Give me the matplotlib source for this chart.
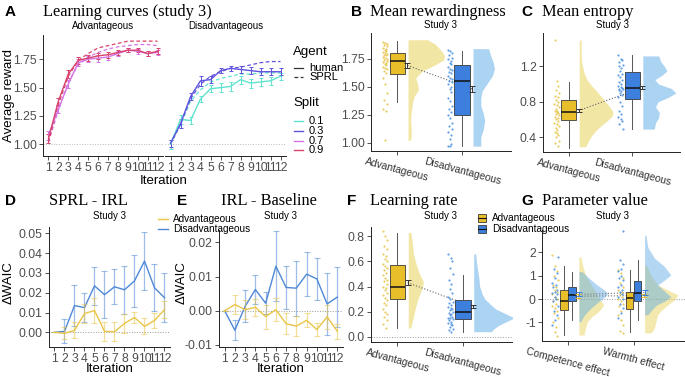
import numpy as np
import matplotlib
matplotlib.use("Agg")
import matplotlib.pyplot as plt
from matplotlib.lines import Line2D
from matplotlib.patches import Rectangle

plt.rcParams["font.family"] = ["Liberation Sans", "DejaVu Sans"]
plt.rcParams["axes.unicode_minus"] = False

W, H = 685, 377

# ---------------- data ----------------
iters = list(range(1, 13))

# A: learning curves (average reward per iteration)
adv_human_09 = [1.05, 1.38, 1.62, 1.74, 1.76, 1.78, 1.79, 1.81, 1.83, 1.83, 1.80, 1.82]
adv_human_07 = [1.08, 1.31, 1.53, 1.72, 1.75, 1.76, 1.77, 1.80, 1.83, 1.82, 1.80, 1.81]
adv_err_09 = [0.04, 0.03, 0.035, 0.03, 0.025, 0.025, 0.025, 0.02, 0.02, 0.02, 0.025, 0.025]
adv_err_07 = [0.04, 0.03, 0.035, 0.03, 0.025, 0.03, 0.03, 0.02, 0.02, 0.02, 0.025, 0.025]
adv_sprl_09 = [1.02, 1.35, 1.60, 1.74, 1.80, 1.85, 1.87, 1.89, 1.91, 1.91, 1.91, 1.91]
adv_sprl_07 = [1.02, 1.30, 1.55, 1.70, 1.77, 1.81, 1.84, 1.86, 1.87, 1.88, 1.88, 1.87]
dis_human_03 = [1.01, 1.18, 1.42, 1.56, 1.57, 1.65, 1.67, 1.66, 1.65, 1.64, 1.64, 1.64]
dis_human_01 = [1.00, 1.22, 1.21, 1.40, 1.49, 1.50, 1.51, 1.57, 1.54, 1.55, 1.56, 1.60]
dis_err_03 = [0.03, 0.04, 0.03, 0.045, 0.03, 0.025, 0.025, 0.03, 0.03, 0.03, 0.03, 0.03]
dis_err_01 = [0.04, 0.04, 0.035, 0.03, 0.03, 0.04, 0.04, 0.035, 0.04, 0.035, 0.035, 0.03]
dis_sprl_03 = [1.00, 1.18, 1.40, 1.53, 1.60, 1.64, 1.67, 1.68, 1.70, 1.72, 1.73, 1.73]
dis_sprl_01 = [1.00, 1.17, 1.38, 1.48, 1.55, 1.58, 1.60, 1.62, 1.62, 1.63, 1.63, 1.63]
split_labels = ["0.1", "0.3", "0.7", "0.9"]
split_colors = ["#5FE3CF", "#5E52DE", "#D474E6", "#D8436D"]

# D: SPRL - IRL delta WAIC
d_dis = [0.0, 0.0005, 0.0135, 0.0125, 0.0235, 0.019, 0.023, 0.0215, 0.026, 0.036, 0.0225, 0.0175]
d_dis_err = [0.0, 0.006, 0.0105, 0.0072, 0.0097, 0.0118, 0.0088, 0.0122, 0.013, 0.0145, 0.0118, 0.0125]
d_adv = [0.0, -0.0005, 0.001, 0.0095, 0.011, 0.0005, 0.0003, 0.0045, 0.0075, 0.003, 0.006, 0.0115]
d_adv_err = [0.0, 0.003, 0.004, 0.005, 0.0065, 0.0048, 0.0047, 0.0048, 0.003, 0.004, 0.004, 0.0045]

# E: IRL - Baseline delta WAIC
e_dis = [0.0, -0.0057, 0.0013, 0.0062, 0.0022, 0.013, 0.0068, 0.0066, 0.0107, 0.0093, 0.002, 0.004]
e_dis_err = [0.0, 0.003, 0.0047, 0.0043, 0.0033, 0.0102, 0.0062, 0.008, 0.0064, 0.0062, 0.009, 0.0087]
e_adv = [0.0, 0.0018, 0.0003, 0.001, -0.0017, 0.0003, -0.0038, -0.0045, -0.0028, -0.0055, -0.0018, -0.006]
e_adv_err = [0.0, 0.0027, 0.0028, 0.0025, 0.0035, 0.0033, 0.003, 0.003, 0.002, 0.0018, 0.0035, 0.0022]

groups = ["Advantageous", "Disadvantageous"]

# B: mean rewardingness
b_adv_pts = [1.90, 1.89, 1.88, 1.87, 1.86, 1.85, 1.84, 1.83, 1.82, 1.81, 1.80, 1.79, 1.78, 1.78,
             1.77, 1.76, 1.75, 1.74, 1.73, 1.72, 1.71, 1.70, 1.69, 1.68, 1.67, 1.66, 1.64, 1.62,
             1.58, 1.52, 1.44, 1.38, 1.35, 1.30, 1.28, 1.02]
b_dis_pts = [1.83, 1.82, 1.80, 1.78, 1.76, 1.75, 1.73, 1.71, 1.70, 1.68, 1.66, 1.65, 1.63, 1.62,
             1.60, 1.58, 1.57, 1.55, 1.54, 1.52, 1.50, 1.48, 1.45, 1.40, 1.37, 1.33, 1.30, 1.27,
             1.25, 1.22, 1.18, 1.15, 1.12, 1.10, 1.07, 1.03, 0.99, 0.97, 0.97]
b_box = [(1.61, 1.73, 1.80, 1.36, 1.91), (1.25, 1.55, 1.69, 0.97, 1.82)]  # q1, med, q3, lo, hi
b_mean = [1.69, 1.48]
b_se = [0.02, 0.03]
b_adv_dy = [1.92, 1.88, 1.83, 1.78, 1.74, 1.69, 1.64, 1.58, 1.52, 1.47, 1.42, 1.36, 1.28, 1.20, 1.12, 1.05, 1.02]
b_adv_dw = [0.30, 0.42, 0.50, 0.56, 0.55, 0.40, 0.22, 0.12, 0.15, 0.16, 0.10, 0.07, 0.05, 0.04, 0.05, 0.05, 0.03]
b_dis_dy = [1.84, 1.78, 1.72, 1.66, 1.60, 1.53, 1.46, 1.40, 1.33, 1.26, 1.20, 1.12, 1.05, 0.97]
b_dis_dw = [0.24, 0.27, 0.31, 0.33, 0.30, 0.22, 0.14, 0.12, 0.12, 0.16, 0.18, 0.16, 0.12, 0.12]

# C: mean entropy
c_adv_pts = [1.50, 1.03, 0.98, 0.93, 0.90, 0.87, 0.85, 0.82, 0.80, 0.78, 0.76, 0.74, 0.72, 0.70,
             0.69, 0.68, 0.67, 0.66, 0.65, 0.63, 0.62, 0.60, 0.58, 0.56, 0.55, 0.52, 0.50, 0.48,
             0.46, 0.44, 0.42, 0.40, 0.35, 0.33, 0.30]
c_dis_pts = [1.33, 1.28, 1.27, 1.25, 1.22, 1.20, 1.18, 1.15, 1.12, 1.10, 1.08, 1.05, 1.02, 1.00,
             0.98, 0.97, 0.96, 0.95, 0.94, 0.93, 0.92, 0.90, 0.88, 0.85, 0.80, 0.75, 0.70, 0.66,
             0.63, 0.60, 0.58, 0.55, 0.49]
c_box = [(0.59, 0.68, 0.82, 0.28, 1.02), (0.83, 0.96, 1.14, 0.49, 1.33)]
c_mean = [0.70, 0.96]
c_se = [0.015, 0.02]
c_adv_dy = [1.50, 1.35, 1.24, 1.12, 1.04, 0.97, 0.90, 0.82, 0.75, 0.69, 0.64, 0.59, 0.53, 0.48, 0.42, 0.36, 0.29]
c_adv_dw = [0.03, 0.03, 0.04, 0.08, 0.13, 0.21, 0.30, 0.39, 0.47, 0.53, 0.52, 0.45, 0.35, 0.27, 0.20, 0.15, 0.10]
c_dis_dy = [1.32, 1.26, 1.20, 1.15, 1.10, 1.05, 1.00, 0.95, 0.90, 0.85, 0.80, 0.74, 0.68, 0.62, 0.56, 0.49]
c_dis_dw = [0.25, 0.28, 0.34, 0.38, 0.30, 0.19, 0.25, 0.45, 0.52, 0.40, 0.24, 0.20, 0.26, 0.25, 0.20, 0.18]

# F: learning rate
f_adv_pts = [0.84, 0.80, 0.77, 0.72, 0.70, 0.66, 0.64, 0.62, 0.60, 0.58, 0.56, 0.55, 0.53, 0.51,
             0.49, 0.47, 0.45, 0.44, 0.42, 0.40, 0.39, 0.37, 0.35, 0.33, 0.31, 0.29, 0.27, 0.25,
             0.22, 0.20, 0.18, 0.16, 0.13, 0.10, 0.07]
f_dis_pts = [0.66, 0.63, 0.60, 0.55, 0.50, 0.45, 0.42, 0.38, 0.35, 0.32, 0.30, 0.28, 0.27, 0.25,
             0.24, 0.23, 0.22, 0.21, 0.20, 0.19, 0.18, 0.17, 0.16, 0.15, 0.15, 0.14, 0.13, 0.12,
             0.11, 0.10, 0.09, 0.08, 0.06, 0.05, 0.04]
f_box = [(0.30, 0.40, 0.57, 0.07, 0.83), (0.14, 0.20, 0.29, 0.04, 0.49)]
f_mean = [0.43, 0.24]
f_se = [0.02, 0.015]
f_adv_dy = [0.83, 0.75, 0.66, 0.58, 0.53, 0.48, 0.44, 0.40, 0.37, 0.32, 0.27, 0.21, 0.16, 0.10, 0.07]
f_adv_dw = [0.04, 0.06, 0.08, 0.12, 0.15, 0.19, 0.23, 0.22, 0.20, 0.16, 0.13, 0.10, 0.08, 0.05, 0.04]
f_dis_dy = [0.66, 0.60, 0.53, 0.46, 0.40, 0.34, 0.30, 0.26, 0.22, 0.18, 0.15, 0.12, 0.09, 0.06, 0.04]
f_dis_dw = [0.03, 0.04, 0.06, 0.08, 0.09, 0.13, 0.17, 0.25, 0.34, 0.50, 0.62, 0.50, 0.38, 0.30, 0.27]

# G: parameter value
params = ["Competence effect", "Warmth effect"]
g_comp_adv_pts = [1.9, 1.4, 1.2, 1.0, 0.8, 0.6, 0.5, 0.4, 0.3, 0.2, 0.1, 0.0, -0.1, -0.2, -0.3,
                  -0.4, -0.5, -0.6, -0.8, -1.0, -1.2, -1.4, -1.6]
g_comp_dis_pts = [1.8, 1.3, 1.1, 0.9, 0.7, 0.6, 0.5, 0.4, 0.3, 0.25, 0.2, 0.1, 0.0, -0.1, -0.3,
                  -0.5, -0.7, -0.9, -1.1]
g_warm_adv_pts = [1.25, 1.1, 0.9, 0.7, 0.5, 0.4, 0.3, 0.2, 0.1, 0.0, -0.1, -0.2, -0.3, -0.5,
                  -0.7, -0.9, -1.1, -1.35, -1.45]
g_warm_dis_pts = [2.9, 1.65, 1.5, 1.3, 1.2, 1.0, 0.9, 0.8, 0.6, 0.5, 0.4, 0.3, 0.2, 0.1, 0.0,
                  -0.2, -0.4, -0.6, -0.8]
g_box_adv = [(-0.48, -0.08, 0.38, -1.55, 1.40), (-0.43, 0.05, 0.32, -1.40, 1.25)]
g_box_dis = [(-0.10, 0.18, 0.50, -0.90, 1.15), (-0.10, 0.25, 0.77, -0.90, 1.65)]
g_mean_adv = [0.12, 0.15]
g_mean_dis = [0.20, 0.28]
g_se_adv = [0.08, 0.08]
g_se_dis = [0.08, 0.09]
g_comp_adv_dy = [1.80, 1.40, 1.03, 0.70, 0.31, 0.00, -0.26, -0.54, -0.75, -0.97, -1.25, -1.54]
g_comp_adv_dw = [0.03, 0.06, 0.10, 0.17, 0.25, 0.32, 0.38, 0.30, 0.20, 0.13, 0.10, 0.08]
g_comp_dis_dy = [1.17, 0.90, 0.60, 0.40, 0.24, 0.05, -0.12, -0.35, -0.54, -0.75, -0.97]
g_comp_dis_dw = [0.05, 0.15, 0.28, 0.38, 0.44, 0.38, 0.30, 0.20, 0.13, 0.07, 0.03]
g_warm_adv_dy = [1.45, 1.00, 0.60, 0.35, 0.17, -0.05, -0.26, -0.50, -0.68, -1.00, -1.24, -1.45]
g_warm_adv_dw = [0.03, 0.10, 0.20, 0.38, 0.51, 0.45, 0.35, 0.25, 0.20, 0.17, 0.15, 0.10]
g_warm_dis_dy = [2.73, 2.20, 1.75, 1.40, 1.03, 0.80, 0.60, 0.35, 0.10, -0.10, -0.26, -0.50, -0.68]
g_warm_dis_dw = [0.02, 0.05, 0.15, 0.30, 0.40, 0.30, 0.20, 0.30, 0.40, 0.30, 0.18, 0.10, 0.05]

# ---------------- style ----------------
YEL, BLU = "#E9BE2B", "#3C7FDD"
YEL_PT, BLU_PT = "#E6C447", "#4A8FE0"
YEL_V, BLU_V = "#E6CF4C", "#58A8E6"
YEL_L, BLU_L = "#E8C547", "#4F88D6"
TICK = "#4D4D4D"
SERIF = ["Liberation Serif", "DejaVu Serif"]
JIT = np.array([-0.035, 0.005, 0.03, -0.015, 0.04, -0.03, 0.015, -0.005, 0.025, -0.04, 0.0, 0.035, -0.02, 0.01])

fig = plt.figure(figsize=(W / 100, H / 100), dpi=100)


def add_ax(l, t, r, b):
    return fig.add_axes([l / W, 1 - b / H, (r - l) / W, (b - t) / H])


def style(ax, left=True):
    for s in ["top", "right"]:
        ax.spines[s].set_visible(False)
    ax.spines["left"].set_visible(left)
    for s in ["left", "bottom"]:
        ax.spines[s].set_linewidth(0.7)
        ax.spines[s].set_color("#222222")
    ax.tick_params(length=3, width=0.6, color="#333333", labelsize=8.8,
                   labelcolor=TICK, pad=1.5)
    ax.set_facecolor("none")


def ftext(x, y, s, **kw):
    fig.text(x / W, 1 - y / H, s, **kw)


def fline(x1, x2, y, **kw):
    fig.add_artist(Line2D([x1 / W, x2 / W], [1 - y / H, 1 - y / H],
                          transform=fig.transFigure, **kw))


def jitter(n):
    return np.resize(JIT, n)


def cloud(ax, x, pts, box, mean, se, dy, dw, col, ptcol, vcol, bw=0.24,
          pt_off=-0.19, v_off=0.165, va=0.5):
    ax.fill_betweenx(dy, x + v_off, x + v_off + np.array(dw), color=vcol,
                     alpha=va, lw=0, zorder=1)
    ax.scatter(x + pt_off + jitter(len(pts)) * 0.9, pts, s=2.5, color=ptcol,
               alpha=0.85, lw=0, zorder=3)
    q1, med, q3, lo, hi = box
    ax.bxp([dict(q1=q1, med=med, q3=q3, whislo=lo, whishi=hi, fliers=[])],
           positions=[x], widths=bw, patch_artist=True, showcaps=False,
           showfliers=False, manage_ticks=False,
           boxprops=dict(facecolor=col, edgecolor="#3a3a3a", lw=0.6),
           medianprops=dict(color="#111111", lw=1.1),
           whiskerprops=dict(color="#555555", lw=0.7), zorder=3)
    ax.errorbar(x + v_off - 0.01, mean, yerr=se, fmt="none", ecolor="#333333",
                elinewidth=0.7, capsize=2, capthick=0.7, zorder=4)


def rot_labels(ax, labels):
    ax.set_xticklabels(labels, rotation=-15, ha="center", fontsize=7.4, color="#333333")
    ax.tick_params(axis="x", pad=0.5)


# ---------------- A ----------------
axA1 = add_ax(43, 35, 163, 156)
axA2 = add_ax(165, 35, 286, 156)
dash = (0, (3, 2))
for ax, lines in [
    (axA1, [(adv_human_07, adv_err_07, adv_sprl_07, split_colors[2]),
            (adv_human_09, adv_err_09, adv_sprl_09, split_colors[3])]),
    (axA2, [(dis_human_01, dis_err_01, dis_sprl_01, split_colors[0]),
            (dis_human_03, dis_err_03, dis_sprl_03, split_colors[1])])]:
    ax.axhline(1.0, color="#bbbbbb", lw=0.7, ls=":", zorder=0)
    for hum, err, sprl, c in lines:
        ax.plot(iters, sprl, color=c, lw=0.9, ls=dash)
        ax.errorbar(iters, hum, yerr=err, color=c, lw=1.0, elinewidth=0.7,
                    capsize=1.5, capthick=0.7)
    ax.set_xlim(0.45, 12.55)
    ax.set_ylim(0.897, 1.964)
    ax.set_xticks(iters)
    ax.set_yticks([1.0, 1.25, 1.5, 1.75])
    ax.set_yticklabels(["1.00", "1.25", "1.50", "1.75"])
style(axA1)
style(axA2, left=False)
axA2.tick_params(axis="y", left=False, labelleft=False)
ftext(103, 26, "Advantageous", ha="center", va="center", fontsize=7)
ftext(226, 26, "Disadvantageous", ha="center", va="center", fontsize=7)
ftext(9, 95, "Average reward", rotation=90, ha="center", va="center", fontsize=9.5)
ftext(164, 181, "Iteration", ha="center", va="center", fontsize=9.5)

# legend A
ftext(293, 52, "Agent", ha="left", va="center", fontsize=9.5)
fline(294, 303, 68, color="#333333", lw=0.9)
ftext(309, 68, "human", ha="left", va="center", fontsize=8)
fline(294, 303, 77, color="#333333", lw=0.9, ls=dash)
ftext(309, 77.5, "SPRL", ha="left", va="center", fontsize=8)
ftext(293, 103, "Split", ha="left", va="center", fontsize=9.5)
for i, (lab, c) in enumerate(zip(split_labels, split_colors)):
    y = 121 + i * 9.8
    fline(294, 303, y, color=c, lw=1.0)
    ftext(309, y, lab, ha="left", va="center", fontsize=8)

# ---------------- B, C, F ----------------
def cloud_panel(box_px, pts, boxes, means, ses, dens, ylim, yticks, yticklabels):
    ax = add_ax(*box_px)
    for i in range(2):
        dy, dw = dens[i]
        col = [YEL, BLU][i]
        cloud(ax, i + 1, pts[i], boxes[i], means[i], ses[i], dy, dw, col,
              [YEL_PT, BLU_PT][i], [YEL_V, BLU_V][i])
    ax.plot([1.155, 2.155], means, ls=":", color="#666666", lw=0.8, zorder=2)
    ax.set_xlim(0.595, 2.75)
    ax.set_ylim(*ylim)
    ax.set_yticks(yticks)
    ax.set_yticklabels(yticklabels)
    ax.set_xticks([1, 2])
    style(ax)
    rot_labels(ax, groups)
    return ax


axB = cloud_panel((371, 33, 511, 151), [b_adv_pts, b_dis_pts], b_box, b_mean, b_se,
                  [(b_adv_dy, b_adv_dw), (b_dis_dy, b_dis_dw)], (0.926, 1.98),
                  [1.0, 1.25, 1.5, 1.75], ["1.00", "1.25", "1.50", "1.75"])
axC = cloud_panel((543, 33, 680, 152), [c_adv_pts, c_dis_pts], c_box, c_mean, c_se,
                  [(c_adv_dy, c_adv_dw), (c_dis_dy, c_dis_dw)], (0.23, 1.58),
                  [0.4, 0.8, 1.2], ["0.4", "0.8", "1.2"])
axF = cloud_panel((371, 227, 512, 342), [f_adv_pts, f_dis_pts], f_box, f_mean, f_se,
                  [(f_adv_dy, f_adv_dw), (f_dis_dy, f_dis_dw)], (-0.042, 0.874),
                  [0.0, 0.2, 0.4, 0.6, 0.8], ["0.0", "0.2", "0.4", "0.6", "0.8"])
axF.axhline(0, color="#999999", lw=0.7, ls=":", zorder=0)

# ---------------- G ----------------
axG = add_ax(542, 230, 685, 341)
axG.axhline(0, color="#999999", lw=0.7, ls=":", zorder=0)
g_pts = [(g_comp_adv_pts, g_comp_dis_pts), (g_warm_adv_pts, g_warm_dis_pts)]
g_dens = [((g_comp_adv_dy, g_comp_adv_dw), (g_comp_dis_dy, g_comp_dis_dw)),
          ((g_warm_adv_dy, g_warm_adv_dw), (g_warm_dis_dy, g_warm_dis_dw))]
for i in range(2):
    x = i + 1
    for k, (col, pcol, vcol, boxes, means, ses) in enumerate(
            [(YEL, YEL_PT, YEL_V, g_box_adv, g_mean_adv, g_se_adv),
             (BLU, BLU_PT, BLU_V, g_box_dis, g_mean_dis, g_se_dis)]):
        dy, dw = g_dens[i][k]
        axG.fill_betweenx(dy, x + 0.165, x + 0.165 + np.array(dw), color=vcol,
                          alpha=0.45, lw=0, zorder=1)
        pts = g_pts[i][k]
        axG.scatter(x - 0.2 + jitter(len(pts))[::-1 if k else 1] * 1.1, pts, s=2.5,
                    color=pcol, alpha=0.85, lw=0, zorder=3)
        q1, med, q3, lo, hi = boxes[i]
        axG.bxp([dict(q1=q1, med=med, q3=q3, whislo=lo, whishi=hi, fliers=[])],
                positions=[x + (-0.06 if k == 0 else 0.06)], widths=0.11,
                patch_artist=True, showcaps=False, showfliers=False, manage_ticks=False,
                boxprops=dict(facecolor=col, edgecolor="#3a3a3a", lw=0.6),
                medianprops=dict(color="#111111", lw=1.1),
                whiskerprops=dict(color="#555555", lw=0.7), zorder=3)
        axG.errorbar(x + 0.15 + 0.015 * k, means[i], yerr=ses[i], fmt="none",
                     ecolor=col, elinewidth=0.7, capsize=2, capthick=0.7, zorder=4)
for means in (g_mean_adv, g_mean_dis):
    axG.plot([1.16, 2.16], means, ls=":", color="#777777", lw=0.8, zorder=2)
axG.set_xlim(0.604, 2.78)
axG.set_ylim(-1.795, 2.95)
axG.set_yticks([-1, 0, 1, 2])
axG.set_xticks([1, 2])
style(axG)
rot_labels(axG, params)

# ---------------- D, E ----------------
def waic_panel(box_px, dis, dis_err, adv, adv_err, ylim, yticks, ylabels):
    ax = add_ax(*box_px)
    ax.axhline(0, color="#999999", lw=0.7, ls=":", zorder=0)
    for v, e, c in [(dis, dis_err, BLU_L), (adv, adv_err, YEL_L)]:
        ax.errorbar(iters, v, yerr=e, fmt="none", ecolor=c, alpha=0.55,
                    elinewidth=0.9, capsize=2, capthick=0.8)
        ax.plot(iters, v, color=c, lw=1.0)
    ax.set_xlim(0.45, 12.55)
    ax.set_ylim(*ylim)
    ax.set_xticks(iters)
    ax.set_yticks(yticks)
    ax.set_yticklabels(ylabels)
    style(ax)
    return ax


axD = waic_panel((49, 227, 170, 347), d_dis, d_dis_err, d_adv, d_adv_err,
                 (-0.0074, 0.0532), [0, 0.01, 0.02, 0.03, 0.04, 0.05],
                 ["0.00", "0.01", "0.02", "0.03", "0.04", "0.05"])
axE = waic_panel((219, 230, 343, 347), e_dis, e_dis_err, e_adv, e_adv_err,
                 (-0.0106, 0.0236), [-0.01, 0, 0.01, 0.02],
                 ["-0.01", "0.00", "0.01", "0.02"])
ftext(110, 369, "Iteration", ha="center", va="center", fontsize=9.5)
ftext(281, 369, "Iteration", ha="center", va="center", fontsize=9.5)
ftext(9, 283, "\u0394WAIC", rotation=90, ha="center", va="center", fontsize=9.5)
ftext(182, 283, "\u0394WAIC", rotation=90, ha="center", va="center", fontsize=9.5)

# legend D/E
fline(158, 168, 219, color=YEL_L, lw=1.0)
ftext(173, 219, "Advantageous", ha="left", va="center", fontsize=7.2)
fline(158, 168, 228.5, color=BLU_L, lw=1.0)
ftext(173, 228.5, "Disadvantageous", ha="left", va="center", fontsize=7.2)

# legend F/G
for y, col in [(218, YEL), (229, BLU)]:
    fig.add_artist(Rectangle((478 / W, 1 - (y + 4) / H), 8 / W, 8 / H,
                             transform=fig.transFigure, facecolor=col,
                             edgecolor="#3a3a3a", lw=0.6))
    fline(478, 486, y, color="#111111", lw=0.8)
    ftext(492, y, groups[0] if col == YEL else groups[1], ha="left", va="center",
          fontsize=7.2)

# ---------------- titles ----------------
titles = [
    (10, 12, "A", 43, "Learning curves (study 3)", None),
    (356, 12, "B", 370, "Mean rewardingness", 441),
    (527, 12, "C", 542, "Mean entropy", 613),
    (10, 201, "D", 49, "SPRL - IRL", 109),
    (182, 201, "E", 221, "IRL - Baseline", 281),
    (352, 201, "F", 370, "Learning rate", 441),
    (527, 201, "G", 542, "Parameter value", 613),
]
for lx, ly, letter, tx, title, sx in titles:
    ftext(lx, ly, letter, ha="center", va="center", fontsize=11, fontweight="bold")
    ftext(tx, ly, title, ha="left", va="center", fontsize=11.8, family=SERIF)
    if sx is not None:
        ftext(sx, ly + (13 if ly < 100 else 15), "Study 3", ha="center", va="center",
              fontsize=7)

fig.savefig("out.png", dpi=100)
